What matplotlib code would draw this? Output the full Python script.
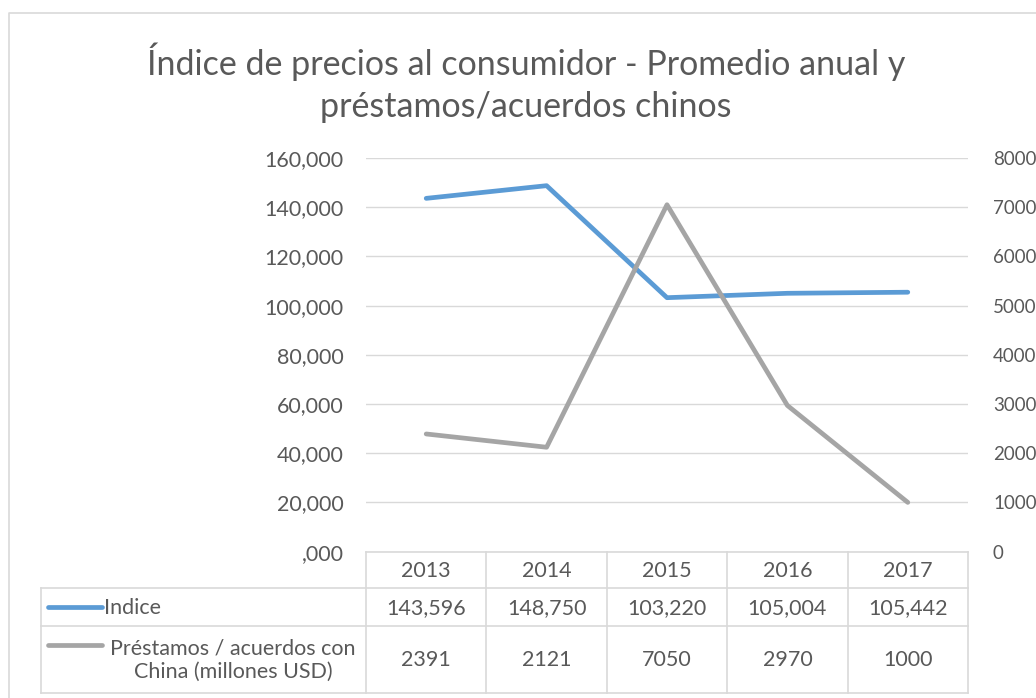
import matplotlib
matplotlib.use("Agg")
import matplotlib.pyplot as plt
from matplotlib.lines import Line2D

years = ["2013", "2014", "2015", "2016", "2017"]
indice = [143596, 148750, 103220, 105004, 105442]
prestamos = [2391, 2121, 7050, 2970, 1000]
left_ticks = [0, 20000, 40000, 60000, 80000, 100000, 120000, 140000, 160000]
left_labels = [",000", "20,000", "40,000", "60,000", "80,000", "100,000", "120,000", "140,000", "160,000"]
right_ticks = [0, 1000, 2000, 3000, 4000, 5000, 6000, 7000, 8000]
right_labels = ["0", "1000", "2000", "3000", "4000", "5000", "6000", "7000", "8000"]
indice_labels = ["143,596", "148,750", "103,220", "105,004", "105,442"]
series_names = ["Indice", "Préstamos / acuerdos con\nChina (millones USD)"]
title = "Índice de precios al consumidor - Promedio anual y\npréstamos/acuerdos chinos"

W, H = 1036, 698
FONT = "Lato"
TXT = "#595959"
GRID = "#D9D9D9"
BLUE = "#5B9BD5"
GRAY = "#A5A5A5"
FS = 15.5

fig = plt.figure(figsize=(W / 100, H / 100), dpi=100)
plt.rcParams["font.family"] = [FONT, "DejaVu Sans"]

# plot area in pixels
px0, px1 = 366, 968
py_top, py_bot = 158, 551.6
ax = fig.add_axes([px0 / W, (H - py_bot) / H, (px1 - px0) / W, (py_bot - py_top) / H])
ax2 = ax.twinx()
x = list(range(len(years)))

ax.set_xlim(-0.5, len(years) - 0.5)
ax.set_ylim(0, 160000)
ax2.set_ylim(0, 8000)
ax.set_yticks(left_ticks)
ax.set_yticklabels(left_labels)
ax2.set_yticks(right_ticks)
ax2.set_yticklabels(right_labels)
for a in (ax, ax2):
    for s in a.spines.values():
        s.set_visible(False)
    a.tick_params(length=0, labelcolor=TXT)
    a.set_xticks([])
ax.tick_params(axis="y", pad=16, labelsize=FS)
ax2.tick_params(axis="y", pad=18, labelsize=13.5)
ax.set_facecolor("none")
ax.grid(axis="y", color=GRID, linewidth=1.0)
ax.set_axisbelow(True)

ax.plot(x, indice, color=BLUE, linewidth=3.4, solid_capstyle="round", zorder=3)
ax2.plot(x, prestamos, color=GRAY, linewidth=3.4, solid_capstyle="round", zorder=3)

# overlay in pixel coordinates
ov = fig.add_axes([0, 0, 1, 1], zorder=-1)
ov.set_xlim(0, W)
ov.set_ylim(H, 0)
ov.axis("off")
ov2 = fig.add_axes([0, 0, 1, 1], zorder=5)
ov2.set_xlim(0, W)
ov2.set_ylim(H, 0)
ov2.axis("off")

# chart border
ov.add_line(Line2D([8.6, 8.6, W + 5], [H + 5, 13, 13], color=GRID, linewidth=1.2))

# title
ov2.text(526, 83, title, ha="center", va="center", fontsize=24.5, color=TXT,
         linespacing=1.4, family=[FONT, "DejaVu Sans"])

# data table
colw = (px1 - px0) / len(years)
ry = [551.6, 588, 626, 693]
tl = 41
lw = 1.2
ov2.add_line(Line2D([px0, px1], [ry[0], ry[0]], color=GRID, linewidth=lw))
for yv in ry[1:]:
    ov2.add_line(Line2D([tl, px1], [yv, yv], color=GRID, linewidth=lw))
for i in range(len(years) + 1):
    xv = px0 + i * colw
    ov2.add_line(Line2D([xv, xv], [ry[0], ry[3]], color=GRID, linewidth=lw))
ov2.add_line(Line2D([tl, tl], [ry[1], ry[3]], color=GRID, linewidth=lw))

for i, yr in enumerate(years):
    cx = px0 + (i + 0.5) * colw
    ov2.text(cx, (ry[0] + ry[1]) / 2 + 1, yr, ha="center", va="center", fontsize=FS, color=TXT)
    ov2.text(cx, (ry[1] + ry[2]) / 2 + 1, indice_labels[i], ha="center", va="center", fontsize=FS, color=TXT)
    ov2.text(cx, (ry[2] + ry[3]) / 2 + 1, str(prestamos[i]), ha="center", va="center", fontsize=FS, color=TXT)

# legend keys
ykey1 = (ry[1] + ry[2]) / 2
ov2.add_line(Line2D([48, 102], [ykey1, ykey1], color=BLUE, linewidth=3.4, solid_capstyle="round"))
ov2.text(104, ykey1 + 1, series_names[0], ha="left", va="center", fontsize=FS, color=TXT)
ykey2 = 645
ov2.add_line(Line2D([48, 102], [ykey2, ykey2], color=GRAY, linewidth=3.4, solid_capstyle="round"))
ov2.text(233, (ry[2] + ry[3]) / 2 + 1, series_names[1], ha="center", va="center",
         fontsize=FS, color=TXT, multialignment="center", linespacing=1.2)

fig.savefig("out.png", dpi=100)
